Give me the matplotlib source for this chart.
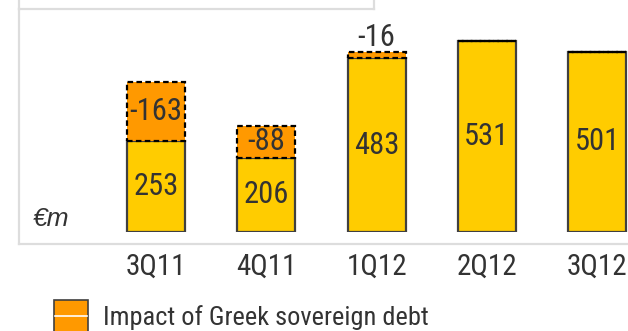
import matplotlib.pyplot as plt
from matplotlib.lines import Line2D
from matplotlib.patches import Rectangle

# quarterly results, €m
quarters = ['3Q11', '4Q11', '1Q12', '2Q12', '3Q12']
underlying = [253, 206, 483, 531, 501]
greek_impact = [-163, -88, -16, 0, 0]

yellow = '#FFCC00'
orange = '#FF9900'
edge = '#404040'
txt = '#333333'
frame = '#dddddd'

plt.rcParams['font.family'] = ['Liberation Sans Narrow', 'Roboto Condensed',
                               'Liberation Sans', 'DejaVu Sans']

W, H = 628, 331
fig = plt.figure(figsize=(W / 100, H / 100), dpi=100)

# axes spans from the top of the figure down to the bar baseline
base_px = 232
ax = fig.add_axes([0, (H - base_px) / H, 1, base_px / H])
ax.set_ylim(0, base_px / 0.36)
ax.set_xlim(-1.414, 4.279)
ax.axis('off')

x = range(len(quarters))
w = 0.526
ax.bar(x, underlying, width=w, color=yellow, edgecolor=edge, linewidth=1.6, zorder=2)
imp = [abs(v) for v in greek_impact]
ax.bar(x, imp, bottom=underlying, width=w, color=orange, edgecolor='black',
       linewidth=1.6, linestyle=(0, (2.5, 1.5)), zorder=3)

for i, (u, g) in enumerate(zip(underlying, greek_impact)):
    ax.text(i, u / 2, str(u), ha='center', va='center', fontsize=22, color=txt, zorder=4)
    if g == 0:
        continue
    if abs(g) > 40:
        ax.text(i, u + abs(g) / 2, str(g), ha='center', va='center', fontsize=22,
                color=txt, zorder=4)
    else:
        ax.text(i, u + abs(g) + 40, str(g), ha='center', va='center', fontsize=22,
                color=txt, zorder=4)

for i, q in enumerate(quarters):
    ax.text(i, -97, q, ha='center', va='center', fontsize=21, color=txt, clip_on=False)

fig.text(33 / W, 1 - 219 / H, '€m', fontsize=19, style='italic', color=txt,
         family=['Liberation Sans', 'DejaVu Sans'], va='center', ha='left')


def fline(x0, y0, x1, y1):
    fig.add_artist(Line2D([x0 / W, x1 / W], [1 - y0 / H, 1 - y1 / H],
                          color=frame, linewidth=1.6, transform=fig.transFigure))


# chart frame and the box above it
fline(19, 9, 19, 244)
fline(19, 244, W + 5, 244)
fline(19, 9, 374, 9)
fline(19, -5, 19, 9)
fline(374, -5, 374, 9)

# legend
fig.add_artist(Rectangle((54 / W, 1 - 335 / H), 34 / W, 35 / H, facecolor=orange,
                         edgecolor=edge, linewidth=1.2, transform=fig.transFigure))
fig.add_artist(Line2D([55 / W, 87 / W], [1 - 316 / H, 1 - 316 / H], color='white',
                      linewidth=1.2, transform=fig.transFigure))
fig.text(103 / W, 1 - 318 / H, 'Impact of Greek sovereign debt', fontsize=19,
         color=txt, va='center', ha='left')

fig.savefig('out.png', dpi=100)
